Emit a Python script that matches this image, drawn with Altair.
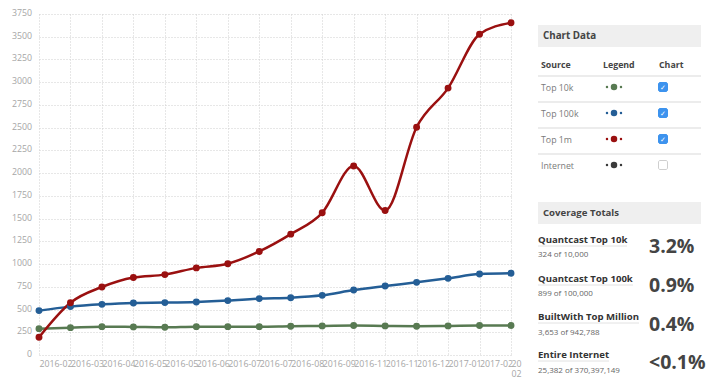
import json
import altair as alt
import pandas as pd

# ---------------- data ----------------
months = ["2016-02", "2016-03", "2016-04", "2016-05", "2016-05", "2016-06",
          "2016-07", "2016-07", "2016-08", "2016-09", "2016-11", "2016-11",
          "2016-12", "2017-01", "2017-02", "2017-02"]
top10k = [290, 301, 312, 309, 305, 312, 312, 312, 317, 320, 324, 320, 317, 320, 324, 324]
top100k = [488, 532, 557, 572, 576, 583, 598, 620, 630, 656, 714, 758, 799, 843, 890, 899]
top1m = [195, 575, 748, 852, 884, 958, 1004, 1139, 1329, 1564, 2078, 1589, 2505, 2935, 3528, 3653]

series_names = ["Top 10k", "Top 100k", "Top 1m"]
series_colors = ["#587a52", "#245e96", "#9a1010"]

y_ticks = list(range(0, 3751, 250))

table_sources = ["Top 10k", "Top 100k", "Top 1m", "Internet"]
table_colors = ["#587a52", "#245e96", "#9a1010", "#3a3a3a"]
table_checked = [True, True, True, False]

coverage_titles = ["Quantcast Top 10k", "Quantcast Top 100k",
                   "BuiltWith Top Million", "Entire Internet"]
coverage_counts = ["324 of 10,000", "899 of 100,000",
                   "3,653 of 942,788", "25,382 of 370,397,149"]
coverage_pcts = ["3.2%", "0.9%", "0.4%", "<0.1%"]

# ---------------- layout (page pixels) ----------------
OX, OY = 39, 14          # plot origin on the page
W, H = 472, 341
FONT = "Open Sans"

rows = []
for name, vals in zip(series_names, [top10k, top100k, top1m]):
    for i, v in enumerate(vals):
        rows.append({"i": i, "value": v, "series": name})
df = pd.DataFrame(rows)

label_arr = list(months)
label_arr[-1] = ["20", "02"]
label_expr = json.dumps(label_arr) + "[datum.value]"

x_axis = alt.Axis(values=list(range(len(months))), labelExpr=label_expr,
                  title=None, domain=False, ticks=False, tickSize=0,
                  labelAlign="left", labelBaseline="top", labelPadding=4,
                  labelFlush=False, labelOverlap=False, labelBound=False,
                  labelColor="#a6a6a6", labelFont=FONT, labelFontSize=8.8,
                  grid=True, gridColor="#cfcfcf", gridDash=[1, 2], gridWidth=1)
y_axis = alt.Axis(values=y_ticks, format="d", title=None, domain=False, ticks=False,
                  tickSize=0, labelPadding=7.5, labelOffset=-1.5,
                  labelColor="#a6a6a6", labelFont=FONT, labelFontSize=8.8,
                  labelFlush=False, labelOverlap=False,
                  grid=True, gridColor="#cfcfcf", gridDash=[1, 2], gridWidth=1)

x_scale = alt.Scale(domain=[0, len(months) - 1], nice=False, zero=False)
y_scale = alt.Scale(domain=[0, 3750], nice=False)

x_enc = alt.X("i:Q", scale=x_scale, axis=x_axis)
y_enc = alt.Y("value:Q", scale=y_scale, axis=y_axis)
color_enc = alt.Color("series:N",
                      scale=alt.Scale(domain=series_names, range=series_colors),
                      legend=None)

base = alt.Chart(df)
lines = base.mark_line(interpolate="monotone", strokeWidth=2.5).encode(
    x=x_enc, y=y_enc, color=color_enc, order=alt.Order("i:Q"))
points = base.mark_point(filled=True, size=48, opacity=1).encode(
    x=x_enc, y=y_enc, color=color_enc)

# ---------------- side panel ----------------
def px(x):
    return x - OX

def py(y):
    return y - OY

PX = lambda f: alt.X(f, scale=None, axis=None)
PY = lambda f: alt.Y(f, scale=None, axis=None)

# header backgrounds
hdr = pd.DataFrame([
    {"x": px(538), "x2": px(701), "y": py(25), "y2": py(47)},
    {"x": px(538), "x2": px(701), "y": py(202), "y2": py(224)},
])
hdr_layer = alt.Chart(hdr).mark_rect(color="#efefef").encode(
    x=PX("x:Q"), x2="x2:Q", y=PY("y:Q"), y2="y2:Q")

# separator lines and underlines
rule_rows = []
for yy in [76, 102, 128, 154]:
    rule_rows.append({"x": px(538), "x2": px(701), "y": py(yy), "c": "#e6e6e6", "w": 1.5})
for yy, xe in zip([246, 285, 323, 361], [627, 633, 639, 609]):
    rule_rows.append({"x": px(538), "x2": px(xe), "y": py(yy), "c": "#e2e2e2", "w": 1})
rules = pd.DataFrame(rule_rows)
rule_layer = alt.Chart(rules).mark_rule().encode(
    x=PX("x:Q"), x2="x2:Q", y=PY("y:Q"),
    color=alt.Color("c:N", scale=None), strokeWidth=alt.StrokeWidth("w:Q", scale=None))

row_y = [87, 113, 139, 165]

# bold texts
bold_rows = [
    {"t": "Chart Data", "x": px(543), "y": py(36), "s": 9.8, "c": "#444444"},
    {"t": "Source", "x": px(541), "y": py(65), "s": 8.8, "c": "#444444"},
    {"t": "Legend", "x": px(603), "y": py(65), "s": 8.8, "c": "#444444"},
    {"t": "Chart", "x": px(659), "y": py(65), "s": 8.8, "c": "#444444"},
    {"t": "Coverage Totals", "x": px(543), "y": py(213), "s": 9.6, "c": "#444444"},
]
for t, yy in zip(coverage_titles, [240, 279, 317, 355]):
    bold_rows.append({"t": t, "x": px(538), "y": py(yy), "s": 9.6, "c": "#333333"})
for t, yy in zip(coverage_pcts, [247, 286, 325, 363]):
    bold_rows.append({"t": t, "x": px(649), "y": py(yy), "s": 19.5, "c": "#444444"})
bold_layer = alt.Chart(pd.DataFrame(bold_rows)).mark_text(
    font=FONT, fontWeight="bold", align="left", baseline="middle").encode(
    x=PX("x:Q"), y=PY("y:Q"), text="t:N",
    size=alt.Size("s:Q", scale=None), color=alt.Color("c:N", scale=None))

# normal texts
norm_rows = []
for t, yy in zip(table_sources, row_y):
    norm_rows.append({"t": t, "x": px(541), "y": py(yy + 1), "s": 8.8, "c": "#7a7a7a"})
for t, yy in zip(coverage_counts, [255, 294, 333, 371]):
    norm_rows.append({"t": t, "x": px(538), "y": py(yy), "s": 8, "c": "#666666"})
norm_layer = alt.Chart(pd.DataFrame(norm_rows)).mark_text(
    font=FONT, align="left", baseline="middle").encode(
    x=PX("x:Q"), y=PY("y:Q"), text="t:N",
    size=alt.Size("s:Q", scale=None), color=alt.Color("c:N", scale=None))

# legend icons
dot_rows = []
for c, yy in zip(table_colors, row_y):
    dot_rows.append({"x": px(607), "y": py(yy), "s": 6, "c": c})
    dot_rows.append({"x": px(621), "y": py(yy), "s": 6, "c": c})
    dot_rows.append({"x": px(614), "y": py(yy), "s": 42, "c": c})
dot_layer = alt.Chart(pd.DataFrame(dot_rows)).mark_circle(opacity=1).encode(
    x=PX("x:Q"), y=PY("y:Q"),
    size=alt.Size("s:Q", scale=None), color=alt.Color("c:N", scale=None))

# checkboxes
box_rows = []
for chk, yy in zip(table_checked, row_y):
    box_rows.append({"x": px(658.5), "x2": px(667.5), "y": py(yy - 4.5), "y2": py(yy + 4.5),
                     "f": "#3d93ee" if chk else "#ffffff",
                     "k": "#3d93ee" if chk else "#cfcfcf"})
box_layer = alt.Chart(pd.DataFrame(box_rows)).mark_rect(cornerRadius=1.5, strokeWidth=1).encode(
    x=PX("x:Q"), x2="x2:Q", y=PY("y:Q"), y2="y2:Q",
    fill=alt.Fill("f:N", scale=None), stroke=alt.Stroke("k:N", scale=None))

chk_rows = [{"t": "\u2713", "x": px(663), "y": py(yy + 0.5)}
            for chk, yy in zip(table_checked, row_y) if chk]
chk_layer = alt.Chart(pd.DataFrame(chk_rows)).mark_text(
    font="DejaVu Sans", fontSize=7, fontWeight="bold", color="#ffffff",
    align="center", baseline="middle").encode(
    x=PX("x:Q"), y=PY("y:Q"), text="t:N")

chart = alt.layer(
    lines, points,
    hdr_layer, rule_layer, bold_layer, norm_layer, dot_layer, box_layer, chk_layer
).properties(
    width=W, height=H,
    autosize=alt.AutoSizeParams(type="none"),
    padding={"left": OX - 8, "top": OY - 8, "right": 205, "bottom": 26},
    background="#ffffff",
).configure_view(stroke=None)

chart.save("out.html", embed_options={"renderer": "svg", "actions": False})
